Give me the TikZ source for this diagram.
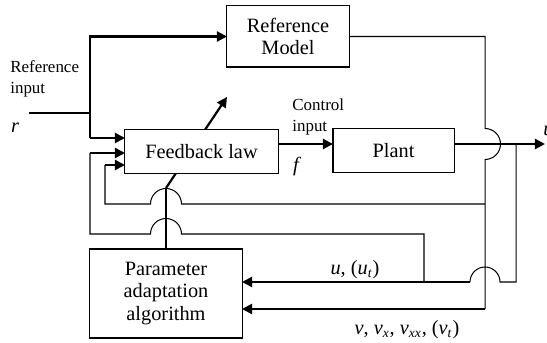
\documentclass[tikz,border=0pt]{standalone}
\usepackage{fontspec}
\setmainfont{Liberation Serif}
\usetikzlibrary{arrows.meta}
\begin{document}
\begin{tikzpicture}[x=0.59pt,y=-0.59pt,
 thn/.style={line width=0.6pt},
 thk/.style={line width=1.3pt},
 arr/.style={thk,-{Triangle[length=6pt,width=6pt]}},
 blk/.style={draw,line width=0.6pt,fill=white,inner sep=0pt,outer sep=0pt,align=center,font=\fontsize{12}{13.5}\selectfont},
 lbl/.style={font=\fontsize{10}{12}\selectfont,align=left,inner sep=0pt},
 sig/.style={font=\fontsize{12}{14}\selectfont,inner sep=0pt}]
\useasboundingbox (0,0) rectangle (547,343);
% tunable-parameter arrow (drawn beneath the feedback block)
\coordinate (dS) at (166,188);
\coordinate (dE) at (227,97);
\draw[arr] (dS) -- (dE);
% blocks
\node[blk,minimum width=72pt,minimum height=36pt] (rm) at (288,36.5) {Reference\\Model};
\node[blk,minimum width=90.3pt,minimum height=26.5pt] (fb) at (201.5,151.5) {Feedback law};
\node[blk,minimum width=71.4pt,minimum height=26.5pt] (pl) at (393.5,150.5) {Plant};
\node[blk,minimum width=89.7pt,minimum height=52.5pt] (pa) at (166,293.5) {Parameter\\adaptation\\algorithm};
% adaptation output to feedback law
\draw[thn] (pa.north) -- (dS);
% reference input
\coordinate (rin) at (29,113);
\coordinate (rj) at (90,113);
\coordinate (a1) at (90,138);
\draw[thn] (rin) -- (rj);
\draw[arr] (a1) |- (rm.west);
\draw[arr] (a1) -- (a1 -| fb.west);
% loop through y=234 (u feedback)
\coordinate (a2) at (90,153);
\coordinate (l2) at (90,234);
\coordinate (uj) at (424,282);
\coordinate (l2r) at (424,234);
\draw[thn] (uj) -- (l2r) -- (181.5,234) arc[start angle=0,end angle=-180,radius=15.5] -- (l2) -- (a2);
\draw[arr] (a2) -- (a2 -| fb.west);
% loop through y=204 (v feedback)
\coordinate (a3) at (105,165);
\coordinate (l1) at (105,204);
\coordinate (vj) at (485,204);
\draw[thn] (vj) -- (181.5,204) arc[start angle=0,end angle=-180,radius=15.5] -- (l1) -- (a3);
\draw[arr] (a3) -- (a3 -| fb.west);
% control input and plant output
\coordinate (cy) at (300,144);
\coordinate (uo) at (545,144);
\draw[arr] (cy -| fb.east) -- (cy -| pl.west);
\draw[arr] (cy -| pl.east) -- (uo);
% reference model output line
\coordinate (rmj) at (485,36.5);
\coordinate (vb) at (485,309);
\draw[thn] (rm.east) -- (rmj) -- (485,128.5) arc[start angle=-90,end angle=90,radius=15.5] -- (vb);
\draw[arr] (vb) -- (vb -| pa.east);
% u branch to adaptation
\coordinate (uj2) at (516,144);
\coordinate (ub) at (516,282);
\coordinate (ua) at (470,282);
\draw[thn] (uj2) -- (ub) -- (500,282) arc[start angle=0,end angle=-180,radius=15];
\draw[arr] (ua) -- (ua -| pa.east);
% labels
\node[lbl,anchor=west] (lref) at (10,79) {Reference\\input};
\node[sig] (lr) at (15,128) {\textit{r}};
\node[lbl,anchor=west] (lci) at (292,117) {Control\\input};
\node[sig] (lf) at (297,167) {\textit{f}};
\node[sig] (lu) at (355,270) {\textit{u}, (\textit{u}\textsubscript{\textit{t}})};
\node[sig] (lv) at (407,330) {\textit{v}, \textit{v}\textsubscript{\textit{x}}, \textit{v}\textsubscript{\textit{xx}}, (\textit{v}\textsubscript{\textit{t}})};
\node[sig,anchor=west] (lu2) at (543,131) {\textit{u}};
\end{tikzpicture}
\end{document}
